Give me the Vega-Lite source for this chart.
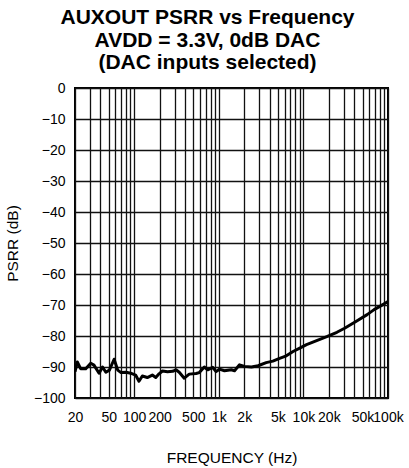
{
  "$schema": "https://vega.github.io/schema/vega-lite/v6.json",
  "width": 313,
  "height": 310,
  "autosize": {"type": "none"},
  "padding": {"left": 75, "top": 88, "right": 21, "bottom": 70},
  "background": "white",
  "title": {
    "text": ["AUXOUT PSRR vs Frequency", "AVDD = 3.3V, 0dB DAC", "(DAC inputs selected)"],
    "font": "Liberation Sans",
    "fontSize": 21,
    "fontWeight": "bold",
    "lineHeight": 22.5,
    "color": "black",
    "anchor": "middle",
    "dx": -24,
    "offset": 8
  },
  "config": {
    "view": {"stroke": "black", "strokeWidth": 2},
    "axis": {
      "labelFont": "Liberation Sans",
      "titleFont": "Liberation Sans",
      "labelFontSize": 14,
      "titleFontSize": 15.5,
      "titleFontWeight": "normal",
      "labelColor": "black",
      "titleColor": "black",
      "gridColor": "#111111",
      "gridOpacity": 1,
      "gridWidth": 1.3,
      "domain": false,
      "ticks": false
    }
  },
  "data": {
    "values": [
      {"freq": 20, "psrr": -91.5},
      {"freq": 21.3, "psrr": -88.4},
      {"freq": 23.4, "psrr": -90.6},
      {"freq": 26.8, "psrr": -90.6},
      {"freq": 30.7, "psrr": -88.8},
      {"freq": 33.5, "psrr": -89.4},
      {"freq": 38.5, "psrr": -92.0},
      {"freq": 42.3, "psrr": -90.0},
      {"freq": 46.3, "psrr": -91.7},
      {"freq": 51, "psrr": -91.0},
      {"freq": 58, "psrr": -87.5},
      {"freq": 64, "psrr": -91.0},
      {"freq": 70, "psrr": -91.8},
      {"freq": 80, "psrr": -91.7},
      {"freq": 91, "psrr": -92.0},
      {"freq": 104, "psrr": -92.6},
      {"freq": 114, "psrr": -94.6},
      {"freq": 125, "psrr": -92.9},
      {"freq": 143, "psrr": -93.4},
      {"freq": 164, "psrr": -92.6},
      {"freq": 180, "psrr": -93.4},
      {"freq": 197, "psrr": -92.2},
      {"freq": 216, "psrr": -91.3},
      {"freq": 248, "psrr": -91.5},
      {"freq": 285, "psrr": -91.4},
      {"freq": 312, "psrr": -90.9},
      {"freq": 341, "psrr": -91.7},
      {"freq": 391, "psrr": -93.6},
      {"freq": 448, "psrr": -92.3},
      {"freq": 539, "psrr": -92.1},
      {"freq": 589, "psrr": -91.8},
      {"freq": 675, "psrr": -90.0},
      {"freq": 740, "psrr": -90.9},
      {"freq": 848, "psrr": -90.1},
      {"freq": 929, "psrr": -91.5},
      {"freq": 1018, "psrr": -90.7},
      {"freq": 1168, "psrr": -91.2},
      {"freq": 1406, "psrr": -90.9},
      {"freq": 1536, "psrr": -91.2},
      {"freq": 1760, "psrr": -89.3},
      {"freq": 2018, "psrr": -89.8},
      {"freq": 2431, "psrr": -90.0},
      {"freq": 2917, "psrr": -89.6},
      {"freq": 3631, "psrr": -88.6},
      {"freq": 4357, "psrr": -88.1},
      {"freq": 5232, "psrr": -87.2},
      {"freq": 6290, "psrr": -86.4},
      {"freq": 7550, "psrr": -85.0},
      {"freq": 9060, "psrr": -83.9},
      {"freq": 10890, "psrr": -82.8},
      {"freq": 14350, "psrr": -81.5},
      {"freq": 18900, "psrr": -80.2},
      {"freq": 24900, "psrr": -78.8},
      {"freq": 30700, "psrr": -77.5},
      {"freq": 41760, "psrr": -75.3},
      {"freq": 56700, "psrr": -73.1},
      {"freq": 68500, "psrr": -71.5},
      {"freq": 83000, "psrr": -70.2},
      {"freq": 100000, "psrr": -68.9}
    ]
  },
  "mark": {"type": "line", "color": "black", "strokeWidth": 3, "strokeJoin": "round", "clip": true},
  "encoding": {
    "x": {
      "field": "freq",
      "type": "quantitative",
      "scale": {"type": "log", "domain": [20, 100000], "nice": false},
      "axis": {
        "title": "FREQUENCY (Hz)",
        "titlePadding": 26,
        "labelPadding": 12,
        "labelOverlap": false,
        "labelFlush": false,
        "grid": true,
        "values": [20, 30, 40, 50, 60, 70, 80, 90, 100, 200, 300, 400, 500, 600, 700, 800, 900, 1000, 2000, 3000, 4000, 5000, 6000, 7000, 8000, 9000, 10000, 20000, 30000, 40000, 50000, 60000, 70000, 80000, 90000, 100000],
        "labelExpr": "indexof([20, 50, 100, 200, 500, 1000, 2000, 5000, 10000, 20000, 50000, 100000], datum.value) >= 0 ? (datum.value >= 1000 ? (datum.value / 1000) + 'k' : '' + datum.value) : ''"
      }
    },
    "y": {
      "field": "psrr",
      "type": "quantitative",
      "scale": {"domain": [-100, 0], "nice": false},
      "axis": {
        "title": "PSRR (dB)",
        "titlePadding": 13,
        "labelPadding": 10,
        "grid": true,
        "values": [-100, -90, -80, -70, -60, -50, -40, -30, -20, -10, 0]
      }
    }
  }
}
